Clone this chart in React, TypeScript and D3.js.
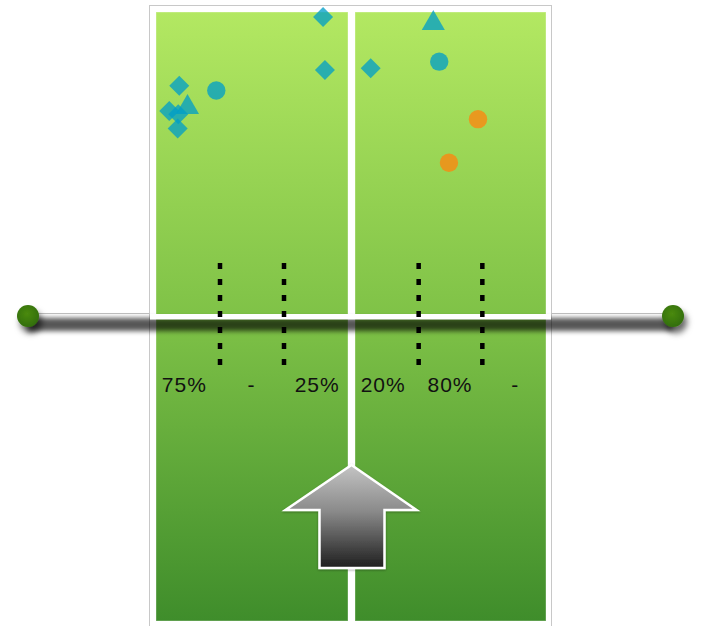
import React from "react";
import * as d3 from "d3";

// ---- data ----
const panels = ["left", "right"];
const panelLabels = [
  ["75%", "-", "25%"],
  ["20%", "80%", "-"],
];
const dividerFractions = [1 / 3, 2 / 3];
const labelFractions = [0.145, 0.495, 0.837];

const pointPanel = [0, 0, 0, 0, 0, 0, 0, 0, 1, 1, 1, 1, 1];
const pointX = [87.0, 88.0, 12.1, 31.4, 16.4, 6.9, 11.6, 11.3, 8.2, 41.0, 44.1, 64.4, 49.2];
const pointY = [98.3, 80.7, 75.5, 73.9, 68.3, 67.1, 66.0, 61.3, 81.3, 96.2, 83.5, 64.4, 49.9];
const pointShape = ["diamond", "diamond", "diamond", "circle", "triangle", "diamond", "diamond", "diamond", "diamond", "triangle", "circle", "circle", "circle"];
const pointSeries = ["teal", "teal", "teal", "teal", "teal", "teal", "teal", "teal", "teal", "teal", "teal", "orange", "orange"];

// ---- layout ----
const W = 701;
const H = 626;
const panelX0 = [156, 355];
const panelX1 = [348, 546];
const panelTop = 12;
const panelBottom = 621;
const outerX0 = 149.5;
const outerX1 = 551.5;
const outerTop = 5.5;
const dotLeftX = 28;
const dotRightX = 673;

const seriesColor: Record<string, string> = {
  teal: "rgba(0,158,200,0.76)",
  orange: "rgba(252,135,15,0.78)",
};

const yScale = d3.scaleLinear().domain([0, 100]).range([313, panelTop]);
const xScales = panels.map((_, i) =>
  d3.scaleLinear().domain([0, 100]).range([panelX0[i], panelX1[i]])
);
const fracScales = panels.map((_, i) =>
  d3.scaleLinear().domain([0, 1]).range([panelX0[i], panelX1[i]])
);

const symbolFor = (shape: string) => {
  if (shape === "circle") return d3.symbol(d3.symbolCircle, 266)();
  if (shape === "triangle") return d3.symbol(d3.symbolTriangle, 231)();
  return d3.symbol(d3.symbolSquare, 200)();
};

export default function App() {
  const horizonY = yScale(0);
  const cx = (panelX1[0] + panelX0[1]) / 2;
  const arrowTip = 465;
  const arrowWing = 510;
  const arrowBottom = 568;
  const arrowPts: [number, number][] = [
    [cx, arrowTip],
    [cx + 65, arrowWing],
    [cx + 33, arrowWing],
    [cx + 33, arrowBottom],
    [cx - 32, arrowBottom],
    [cx - 32, arrowWing],
    [cx - 66, arrowWing],
  ];
  const arrowPath = d3.line()(arrowPts) + "Z";

  return (
    <svg
      width={W}
      height={H}
      style={{ position: "absolute", left: 0, top: 0, background: "#fff" }}
    >
      <defs>
        <linearGradient id="panelGrad" x1="0" y1={panelTop} x2="0" y2={panelBottom} gradientUnits="userSpaceOnUse">
          <stop offset="0" stopColor="#b3e862" />
          <stop offset="0.5" stopColor="#7fc247" />
          <stop offset="1" stopColor="#3f8d2b" />
        </linearGradient>
        <linearGradient id="arrowGrad" x1="0" y1={arrowTip} x2="0" y2={arrowBottom} gradientUnits="userSpaceOnUse">
          <stop offset="0" stopColor="#c4c4c4" />
          <stop offset="0.45" stopColor="#8a8a8a" />
          <stop offset="1" stopColor="#1e1e1e" />
        </linearGradient>
        <radialGradient id="dotGrad" cx="0.45" cy="0.4" r="0.6">
          <stop offset="0" stopColor="#4a8a12" />
          <stop offset="1" stopColor="#326e08" />
        </radialGradient>
        <filter id="blurShadow" x="-5%" y="-200%" width="110%" height="500%">
          <feGaussianBlur stdDeviation="2.6" />
        </filter>
        <filter id="dotShadow" x="-100%" y="-100%" width="300%" height="300%">
          <feDropShadow dx="3" dy="6" stdDeviation="3" floodColor="#000" floodOpacity="0.6" />
        </filter>
        <filter id="arrowShadow" x="-20%" y="-20%" width="140%" height="140%">
          <feDropShadow dx="0" dy="1" stdDeviation="1.2" floodColor="#000" floodOpacity="0.35" />
        </filter>
      </defs>

      {/* outer frame */}
      <rect x={outerX0} y={outerTop} width={outerX1 - outerX0} height={H + 10} fill="#fff" stroke="#c8c8c8" strokeWidth={1} />

      {/* panels */}
      {panels.map((p, i) => (
        <rect
          key={p}
          x={panelX0[i]}
          y={panelTop}
          width={panelX1[i] - panelX0[i]}
          height={panelBottom - panelTop}
          fill="url(#panelGrad)"
          stroke="rgba(255,255,255,0.35)"
          strokeWidth={1}
        />
      ))}

      {/* horizon shadow */}
      <rect
        x={dotLeftX}
        y={horizonY + 5}
        width={dotRightX - dotLeftX}
        height={13}
        fill="#000"
        opacity={0.66}
        filter="url(#blurShadow)"
      />
      {/* horizon thin gray line outside frame */}
      <line x1={dotLeftX} x2={outerX0} y1={horizonY + 0.5} y2={horizonY + 0.5} stroke="#bdbdbd" strokeWidth={1} />
      <line x1={outerX1} x2={dotRightX} y1={horizonY + 0.5} y2={horizonY + 0.5} stroke="#bdbdbd" strokeWidth={1} />
      {/* white band across panels */}
      <rect x={outerX0 + 0.5} y={horizonY + 1} width={outerX1 - outerX0 - 1} height={5.5} fill="#fff" />

      {/* dotted dividers */}
      {panels.map((p, i) =>
        dividerFractions.map((f, j) => (
          <line
            key={p + j}
            x1={fracScales[i](f)}
            x2={fracScales[i](f)}
            y1={263}
            y2={367}
            stroke="#000"
            strokeWidth={4.5}
            strokeDasharray="6 10"
          />
        ))
      )}

      {/* labels */}
      {panels.map((p, i) =>
        panelLabels[i].map((t, j) => (
          <text
            key={p + "l" + j}
            x={fracScales[i](labelFractions[j]) + 0.5}
            y={392}
            textAnchor="middle"
            fontFamily="'Liberation Sans', Arial, sans-serif"
            fontSize={21}
            letterSpacing={1}
            fill="#111"
          >
            {t}
          </text>
        ))
      )}

      {/* arrow */}
      <path
        d={arrowPath}
        fill="url(#arrowGrad)"
        stroke="#fff"
        strokeWidth={2.5}
        strokeLinejoin="miter"
        filter="url(#arrowShadow)"
      />

      {/* end dots */}
      {[dotLeftX, dotRightX].map((x, i) => (
        <circle key={i} cx={x} cy={horizonY + 3} r={11} fill="url(#dotGrad)" filter="url(#dotShadow)" />
      ))}

      {/* scatter points */}
      {pointX.map((v, k) => {
        const px = xScales[pointPanel[k]](v);
        const py = yScale(pointY[k]);
        const rot = pointShape[k] === "diamond" ? 45 : 0;
        return (
          <path
            key={k}
            d={symbolFor(pointShape[k]) || ""}
            transform={`translate(${px},${py}) rotate(${rot})`}
            fill={seriesColor[pointSeries[k]]}
          />
        );
      })}
    </svg>
  );
}
